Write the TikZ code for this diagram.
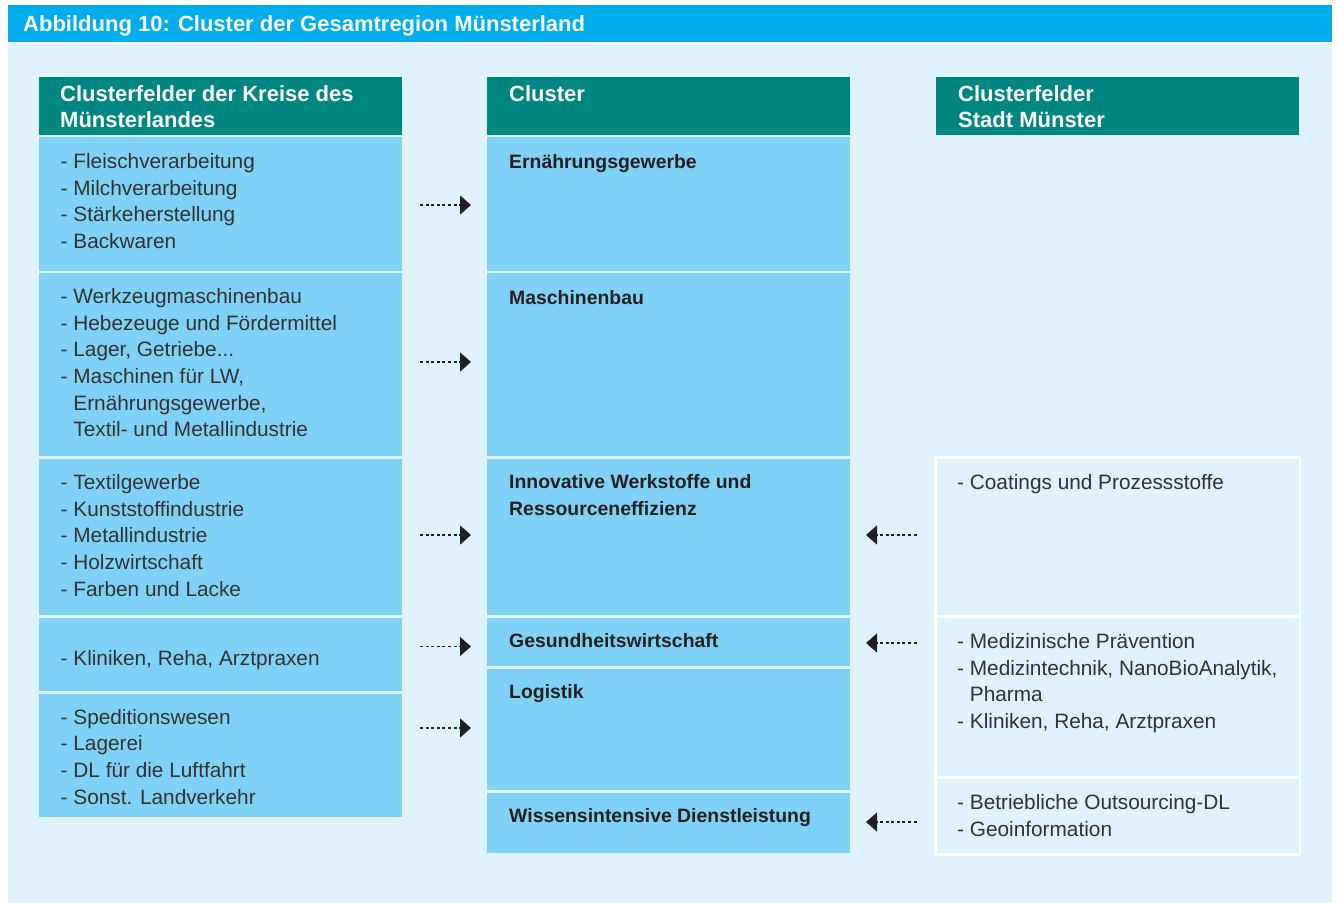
\documentclass[tikz,border=0pt]{standalone}
\usepackage{fontspec}
\setmainfont{Liberation Sans}
\usetikzlibrary{arrows.meta}
\definecolor{titlebar}{RGB}{0,174,239}
\definecolor{bgblue}{RGB}{224,242,252}
\definecolor{hdteal}{RGB}{0,134,128}
\definecolor{cellblue}{RGB}{127,210,245}
\definecolor{bodytxt}{RGB}{50,50,50}
\definecolor{boldtxt}{RGB}{35,31,32}
\newcommand\ind{\hphantom{- }}
\newcommand\cellText[1]{\parbox[t]{350pt}{\raggedright #1}}
\begin{document}
\begin{tikzpicture}[x=1pt,y=-1pt,
  box/.style={inner sep=0pt, outer sep=0pt, anchor=north west},
  cell/.style={box, fill=cellblue},
  head/.style={box, fill=hdteal},
  rcell/.style={box, fill=bgblue, draw=white, line width=2.5pt},
  body/.style={inner sep=0pt, anchor=base west, text=bodytxt, font=\fontsize{20.8}{26.7}\selectfont},
  ctitle/.style={inner sep=0pt, anchor=base west, text=boldtxt, font=\bfseries\fontsize{19.4}{26.7}\selectfont},
  htext/.style={inner sep=0pt, anchor=base west, text=white, font=\bfseries\fontsize{22}{26.7}\selectfont},
  flow/.style={line width=1.3pt, dash pattern=on 3pt off 2.6pt, draw=boldtxt, -{Triangle[length=11pt,width=19pt]}}]
\useasboundingbox (0,0) rectangle (1338,903);
% backgrounds
\fill[bgblue] (8,43.5) rectangle (1332,903);
\node[box, fill=titlebar, minimum width=1324pt, minimum height=37pt] (bar) at (8,5) {};
\node[htext] (title) at (23,31.7) {Abbildung 10: Cluster der Gesamtregion Münsterland};
% headers
\node[head, minimum width=362.5pt, minimum height=57.5pt] (HL) at (39,77) {};
\node[head, minimum width=363pt, minimum height=57.5pt] (HM) at (487,77) {};
\node[head, minimum width=362.5pt, minimum height=57.5pt] (HR) at (936,77) {};
\node[htext] (hlt) at (60,101) {\cellText{Clusterfelder der Kreise des\\Münsterlandes}};
\node[htext] (hmt) at (509,101) {Cluster};
\node[htext] (hrt) at (958,101) {\cellText{Clusterfelder\\Stadt Münster}};
% left cells
\node[cell, minimum width=362.5pt, minimum height=133.5pt] (L1) at (39,137) {};
\node[cell, minimum width=362.5pt, minimum height=183pt] (L2) at (39,273) {};
\node[cell, minimum width=362.5pt, minimum height=156pt] (L3) at (39,459) {};
\node[cell, minimum width=362.5pt, minimum height=72.5pt] (L4) at (39,618) {};
\node[cell, minimum width=362.5pt, minimum height=123pt] (L5) at (39,693.5) {};
% middle cells
\node[cell, minimum width=363pt, minimum height=133.5pt] (M1) at (487,137) {};
\node[cell, minimum width=363pt, minimum height=183pt] (M2) at (487,273) {};
\node[cell, minimum width=363pt, minimum height=156pt] (M3) at (487,459) {};
\node[cell, minimum width=363pt, minimum height=48pt] (M4) at (487,618) {};
\node[cell, minimum width=363pt, minimum height=121pt] (M5) at (487,669) {};
\node[cell, minimum width=363pt, minimum height=60pt] (M6) at (487,793) {};
% right cells
\node[rcell, minimum width=364.5pt, minimum height=159pt] (R1) at (935.5,457.5) {};
\node[rcell, minimum width=364.5pt, minimum height=161pt] (R2) at (935.5,616.5) {};
\node[rcell, minimum width=364.5pt, minimum height=77pt] (R3) at (935.5,777.5) {};
% left texts
\node[body] (lt1) at (60.5,168.3) {\cellText{- Fleischverarbeitung\\- Milchverarbeitung\\- Stärkeherstellung\\- Backwaren}};
\node[body] (lt2) at (60.5,303.3) {\cellText{- Werkzeugmaschinenbau\\- Hebezeuge und Fördermittel\\- Lager, Getriebe...\\- Maschinen für LW,\\\ind Ernährungsgewerbe,\\\ind Textil- und Metallindustrie}};
\node[body] (lt3) at (60.5,489.5) {\cellText{- Textilgewerbe\\- Kunststoffindustrie\\- Metallindustrie\\- Holzwirtschaft\\- Farben und Lacke}};
\node[body] (lt4) at (60.5,665.7) {- Kliniken, Reha, Arztpraxen};
\node[body] (lt5) at (60.5,724) {\cellText{- Speditionswesen\\- Lagerei\\- DL für die Luftfahrt\\- Sonst. Landverkehr}};
% middle texts
\node[ctitle] (mt1) at (509,168.3) {Ernährungsgewerbe};
\node[ctitle] (mt2) at (509,304.5) {Maschinenbau};
\node[ctitle] (mt3) at (509,488.3) {\cellText{Innovative Werkstoffe und\\Ressourceneffizienz}};
\node[ctitle] (mt4) at (509,647.3) {Gesundheitswirtschaft};
\node[ctitle] (mt5) at (509,698.3) {Logistik};
\node[ctitle] (mt6) at (509,822.3) {Wissensintensive Dienstleistung};
% right texts
\node[body] (rt1) at (957,489.3) {- Coatings und Prozessstoffe};
\node[body] (rt2) at (957,648.3) {\cellText{- Medizinische Prävention\\- Medizintechnik, NanoBioAnalytik,\\\ind Pharma\\- Kliniken, Reha, Arztpraxen}};
\node[body] (rt3) at (957,809.3) {\cellText{- Betriebliche Outsourcing-DL\\- Geoinformation}};
% arrow end points
\coordinate (a1s) at (420,205);   \coordinate (a1e) at (471,205);
\coordinate (a2s) at (420,362);   \coordinate (a2e) at (471,362);
\coordinate (a3s) at (420,535);   \coordinate (a3e) at (471,535);
\coordinate (a4s) at (420,646.5); \coordinate (a4e) at (471,646.5);
\coordinate (a5s) at (420,728);   \coordinate (a5e) at (471,728);
\coordinate (b1s) at (916.5,535);   \coordinate (b1e) at (866,535);
\coordinate (b2s) at (916.5,643); \coordinate (b2e) at (866,643);
\coordinate (b3s) at (916.5,822); \coordinate (b3e) at (866,822);
\draw[flow] (a1s) -- (a1e);
\draw[flow] (a2s) -- (a2e);
\draw[flow] (a3s) -- (a3e);
\draw[flow] (a4s) -- (a4e);
\draw[flow] (a5s) -- (a5e);
\draw[flow] (b1s) -- (b1e);
\draw[flow] (b2s) -- (b2e);
\draw[flow] (b3s) -- (b3e);
\end{tikzpicture}
\end{document}
